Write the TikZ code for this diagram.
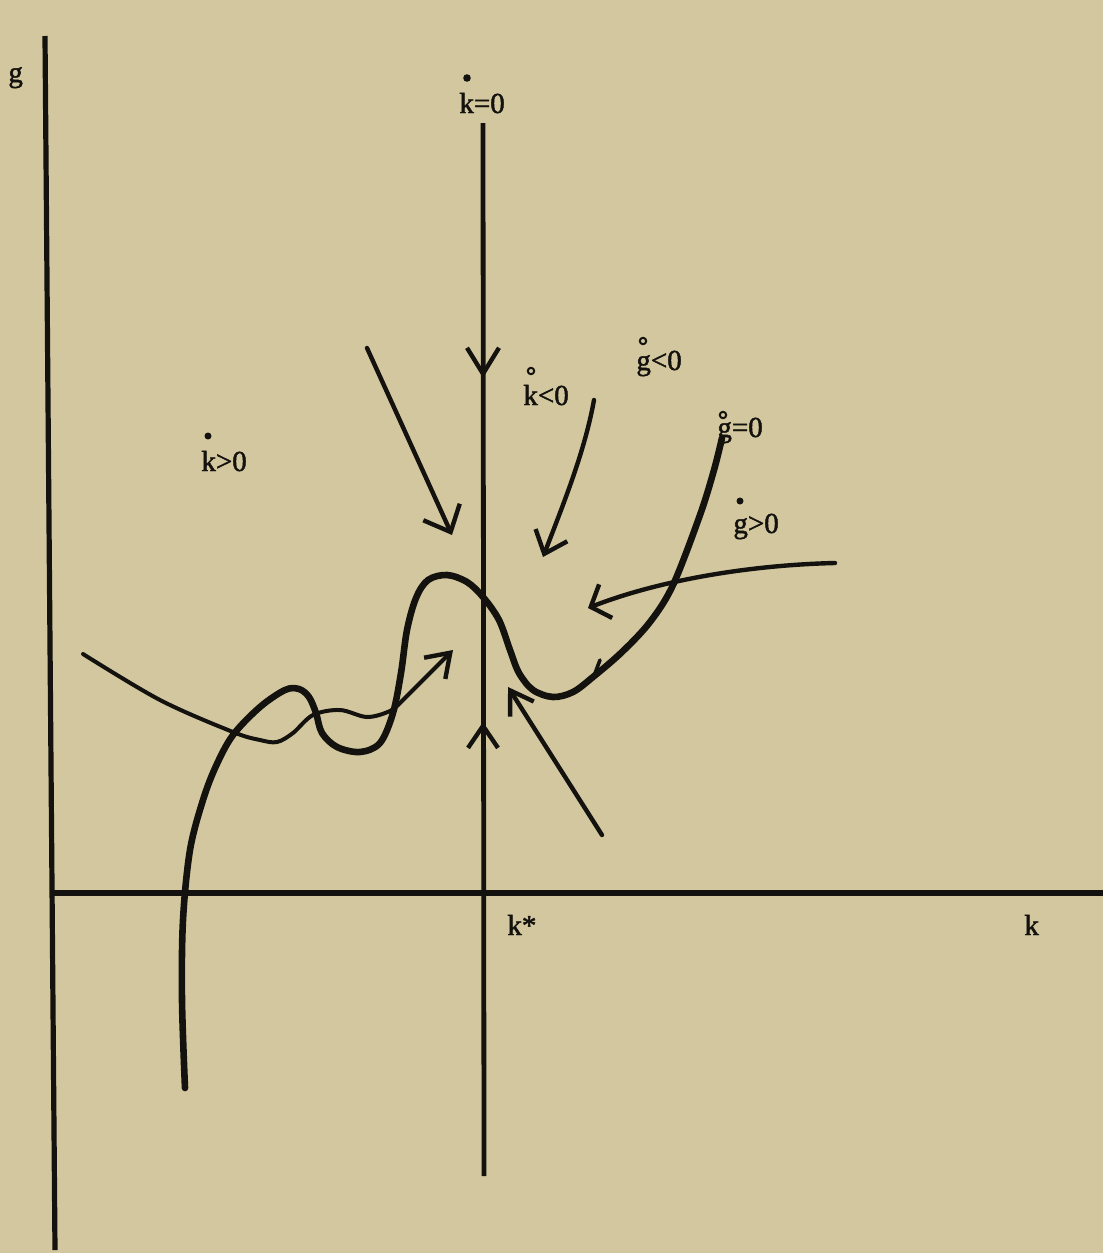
\documentclass[tikz,border=0pt]{standalone}
\usepackage{fontspec}
\setmainfont{Liberation Serif}
\newfontfamily\lblfont[FakeBold=1.6]{Liberation Serif}
\usetikzlibrary{arrows.meta}
\definecolor{paper}{RGB}{210,199,159}
\definecolor{ink}{RGB}{20,18,14}
\begin{document}
\begin{tikzpicture}[x=0.5pt,y=-0.5pt,
  axisline/.style={draw=ink,line width=2.6pt},
  thickcurve/.style={draw=ink,line width=3.3pt,line cap=round,line join=round},
  thincurve/.style={draw=ink,line width=2pt,line cap=round,line join=round},
  flowline/.style={draw=ink,line width=2.2pt,line cap=round},
  headarrow/.style={-{Straight Barb[length=11pt,width=15pt,line width=2.2pt]}},
  lbl/.style={anchor=base west,inner sep=0pt,text=ink,font=\lblfont\fontsize{14.5}{16}\selectfont},
  fdot/.style={fill=ink},
  odot/.style={draw=ink,line width=1pt}]
\useasboundingbox (0,0) rectangle (1103,1253);
\fill[paper] (0,0) rectangle (1103,1253);

% axes
\coordinate (gtop) at (45,36);
\coordinate (gbot) at (55,1250);
\coordinate (kleft) at (50,893);
\coordinate (kright) at (1103,893);
\coordinate (ktop) at (483,123);
\coordinate (kbot) at (484,1176);
\draw[axisline] (gtop) -- (gbot);
\draw[axisline] (kleft) -- (kright);
\draw[axisline,line width=2.4pt] (ktop) -- (kbot);

% arrows on the k-dot = 0 line
\coordinate (dnA) at (483,345);
\coordinate (dnB) at (483,378);
\coordinate (upA) at (483,760);
\coordinate (upB) at (483,722);
\draw[flowline,headarrow,-{Straight Barb[length=13pt,width=16pt,line width=2.2pt]}] (dnA) -- (dnB);
\draw[flowline,headarrow] (upA) -- (upB);

% g-dot = 0 curve
\draw[thickcurve] plot[smooth,tension=0.55] coordinates {
 (185,1088) (182,1000) (183,920) (190,850) (203,800) (216,766) (233,735)
 (260,707) (285,690) (299,689) (309,697) (316,713) (322,733) (337,747)
 (360,752) (380,743) (393,713) (401,673) (407,630) (416,598) (428,580)
 (447,575) (467,582) (483,597) (499,620) (510,650) (519,673) (533,690)
 (553,697) (573,692) (593,677) (622,652) (650,622) (673,585) (700,515)
 (714,470) (722,438)};
\coordinate (spA) at (594,676);
\coordinate (spB) at (600,660);
\draw[thickcurve,line width=1.8pt] (spA) -- (spB);

% thin trajectory from the left
\coordinate (thinTip) at (453,650);
\draw[thincurve,headarrow] plot[smooth,tension=0.55] coordinates {
 (83,654) (160,700) (233,732) (260,740) (277,742) (293,733) (313,715)
 (340,710) (367,717) (390,711) (402,701)} -- (thinTip);

% other trajectories
\coordinate (tlA) at (367,348);
\coordinate (tlB) at (452,535);
\draw[flowline,headarrow,-{Straight Barb[length=11pt,width=20pt,line width=2.2pt]}] (tlA) -- (tlB);

\coordinate (kmA) at (594,400);
\coordinate (kmB) at (543,557);
\draw[flowline,headarrow,-{Straight Barb[length=10pt,width=17pt,line width=2.2pt]}] (kmA) .. controls (585,450) and (565,500) .. (kmB);

\coordinate (rtA) at (835,563);
\coordinate (rtB) at (588,608);
\draw[flowline,headarrow,-{Straight Barb[length=8pt,width=18pt,line width=2.2pt]}] (rtA) .. controls (750,565) and (660,580) .. (rtB);

\coordinate (lrA) at (602,835);
\coordinate (lrB) at (508,687);
\draw[flowline,headarrow,-{Straight Barb[length=11pt,width=14pt,line width=2.2pt]}] (lrA) -- (lrB);

% labels
\node[lbl] (lg) at (8,82) {g};
\node[lbl] (lk0) at (459,113) {k=0};
\fill[fdot] (467,78) circle (3.8);
\node[lbl] (lkneg) at (523,405) {k<0};
\draw[odot] (531,371) circle (3.2);
\node[lbl] (lgneg) at (636,370) {g<0};
\draw[odot] (643,341) circle (3.2);
\node[lbl] (lg0) at (717,437) {g=0};
\draw[odot] (723,415) circle (3.2);
\node[lbl] (lgpos) at (733,533) {g>0};
\fill[fdot] (740,501) circle (3.5);
\node[lbl] (lkpos) at (201,471) {k>0};
\fill[fdot] (208,436) circle (3.5);
\node[lbl] (lkstar) at (507,935) {k*};
\node[lbl] (lkax) at (1024,935) {k};
\end{tikzpicture}
\end{document}
